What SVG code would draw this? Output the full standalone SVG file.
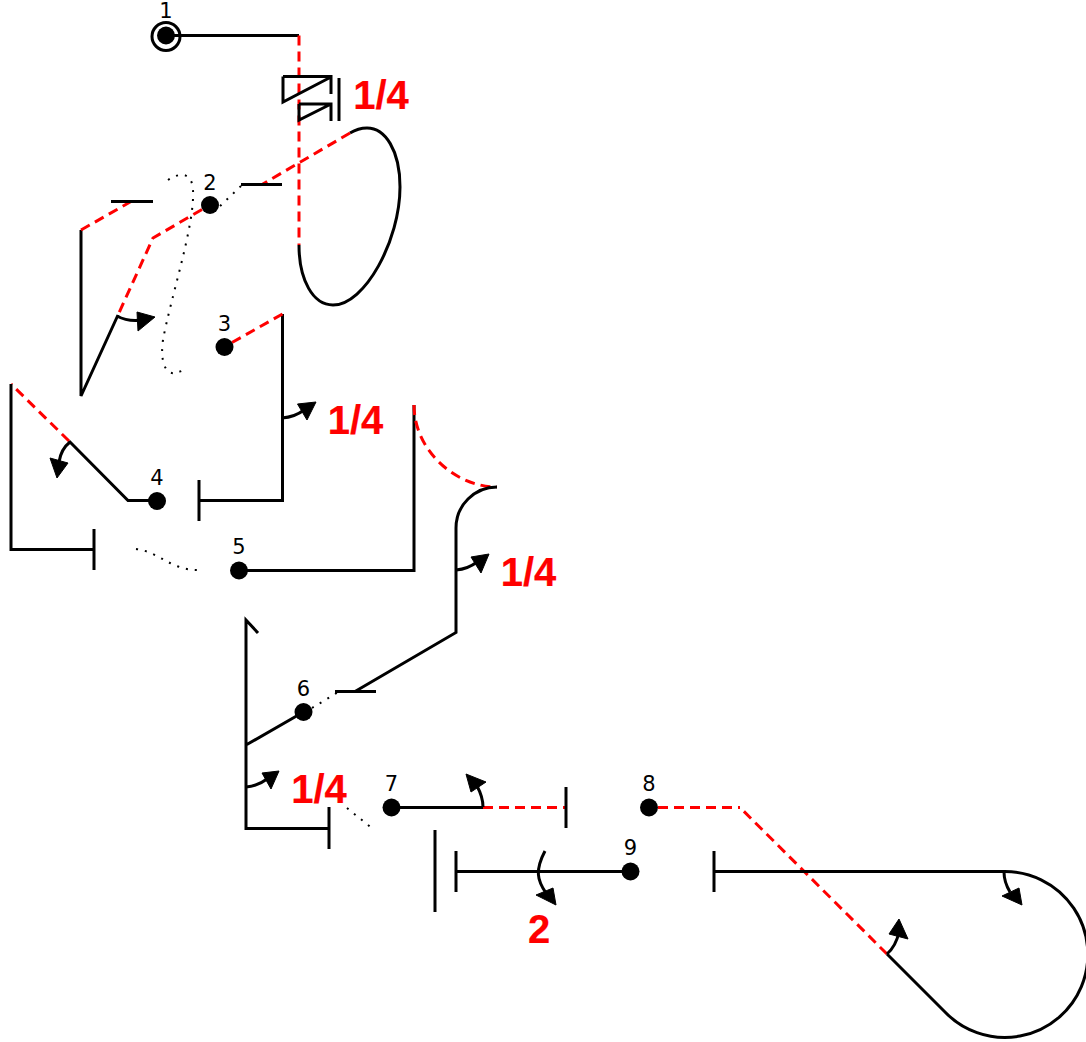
<svg xmlns="http://www.w3.org/2000/svg" width="1086" height="1042" viewBox="0 0 1086 1042">
<defs><style>
.b{fill:none;stroke:#000;stroke-width:3}
.r{fill:none;stroke:#f00;stroke-width:3;stroke-dasharray:10 6}
.d{fill:none;stroke:#000;stroke-width:2;stroke-dasharray:2 7}
.a{fill:none;stroke:#000;stroke-width:3}
.h{fill:#000;stroke:#000;stroke-width:1}
.n{fill:#000}
.t{font:21px "DejaVu Sans",sans-serif;text-anchor:middle;fill:#000;stroke:#fff;stroke-width:4;paint-order:stroke}
.q{font:bold 40px "Liberation Sans",Arial,sans-serif;text-anchor:middle;fill:#f00;stroke:#f00;stroke-width:.2}
</style></defs>
<rect width="1086" height="1042" fill="#fff"/>
<g id="connectors">
<path class="b" d="M166 35.500H299"/>
<path class="r" d="M299 35.500V245"/>
<path class="b" d="M299 245C299 280 313 305 333 305C365 305 400 240 400 187C400 150 385 128 367 128C360 128 355 130 350 133"/>
<path class="r" d="M350 133L262 184.500"/>
<path class="b" d="M241 184.500H282"/>
<path class="d" d="M241 186L218 208"/>
<path class="r" d="M202 209.500L153 238L118 315"/>
<path class="b" d="M118 315L81 396V230"/>
<path class="r" d="M81 230L131 201.500"/>
<path class="b" d="M111 201.500H153"/>
<path class="d" d="M168 180C180 172 192 172 193 190C195 225 170 300 163 340C160 360 165 375 175 373Q180 372 186 369"/>
<path class="b" d="M282.500 314V500.500H199M199 480V521"/>
<path class="r" d="M232 342.500L282.500 314"/>
<path class="b" d="M157 500.500H128L69 441"/>
<path class="r" d="M69 441L11 384"/>
<path class="b" d="M11 384V549.500H94M94 529V570"/>
<path class="d" d="M136 549C160 552 170 570 198 570"/>
<path class="b" d="M239 570.500H414V405"/>
<path class="r" d="M414 405C414 450 455 487 497 487"/>
<path class="b" d="M497 487A41 41 0 0 0 456 528V632.500L355 691.500M335 691.500H376"/>
<path class="d" d="M312 708L340 691"/>
<path class="b" d="M303.500 712L246 745M258 633L246 620V828.500H329M329 807V849"/>
<path class="d" d="M347 808L373 829"/>
<path class="b" d="M391.500 807.500H483"/>
<path class="r" d="M483 807.500H566"/>
<path class="b" d="M566 787V828"/>
<path class="r" d="M658 807.500H740"/>
<path class="r" d="M887 954L740 807.500"/>
<path class="b" d="M887 954L945 1012A83 83 0 1 0 1004 871.500H714M714 851V892"/>
<path class="b" d="M630.500 871.500H456M456 851V892M435 830V912"/>
<path class="b" d="M283 76.500H331V94M283 76.500V102L331 77M299 104H331V121M299 104V120L331 104M339 78V121"/>
</g>
<g id="arrows">
<path class="a" d="M117 316Q128 322 142 320"/><path class="h" d="M155 317L137 312L138 331Z"/>
<path class="a" d="M282 418Q295 417 304 410"/><path class="h" d="M316 402L297.500 404L307 420Z"/>
<path class="a" d="M70 442Q61 449 59 462"/><path class="h" d="M57 478L50 458L68 463Z"/>
<path class="a" d="M456 570Q468 569 477 562"/><path class="h" d="M489 554L471 557L481 573Z"/>
<path class="a" d="M246 787Q258 786 267 779"/><path class="h" d="M279 771L262 773L271 789Z"/>
<path class="a" d="M483 807Q483 797 477 786"/><path class="h" d="M466 774L486 782L471 792Z"/>
<path class="a" d="M545 851C535 870 537 880 546 893"/><path class="h" d="M556 905L536 895L553 888Z"/>
<path class="a" d="M887 954Q896 946 899 932"/><path class="h" d="M899 919L889 934L908 939Z"/>
<path class="a" d="M1004 872Q1004 882 1010 892"/><path class="h" d="M1022 905L1002 896L1019 888Z"/>
</g>
<g id="node1"><circle cx="166" cy="36.500" r="14" fill="none" stroke="#000" stroke-width="3"/><circle class="n" cx="166" cy="35.500" r="9"/><text class="t" x="166" y="18">1</text></g>
<g id="node2"><circle class="n" cx="210" cy="205" r="9"/><text class="t" x="210" y="190">2</text></g>
<g id="node3"><circle class="n" cx="224.500" cy="347" r="9"/><text class="t" x="224.500" y="331">3</text></g>
<g id="node4"><circle class="n" cx="157" cy="501" r="9"/><text class="t" x="157" y="485">4</text></g>
<g id="node5"><circle class="n" cx="239" cy="570.500" r="9"/><text class="t" x="239" y="554">5</text></g>
<g id="node6"><circle class="n" cx="303.500" cy="712" r="9"/><text class="t" x="303.500" y="696">6</text></g>
<g id="node7"><circle class="n" cx="391.500" cy="807.500" r="9"/><text class="t" x="391.500" y="791">7</text></g>
<g id="node8"><circle class="n" cx="649" cy="807.500" r="9"/><text class="t" x="649" y="791">8</text></g>
<g id="node9"><circle class="n" cx="630.500" cy="871.500" r="9"/><text class="t" x="630.500" y="855">9</text></g>
<g id="labels">
<text class="q" x="381" y="109">1/4</text>
<text class="q" x="355.500" y="434">1/4</text>
<text class="q" x="528.500" y="586">1/4</text>
<text class="q" x="319" y="803">1/4</text>
<text class="q" x="539" y="943">2</text>
</g>
</svg>
